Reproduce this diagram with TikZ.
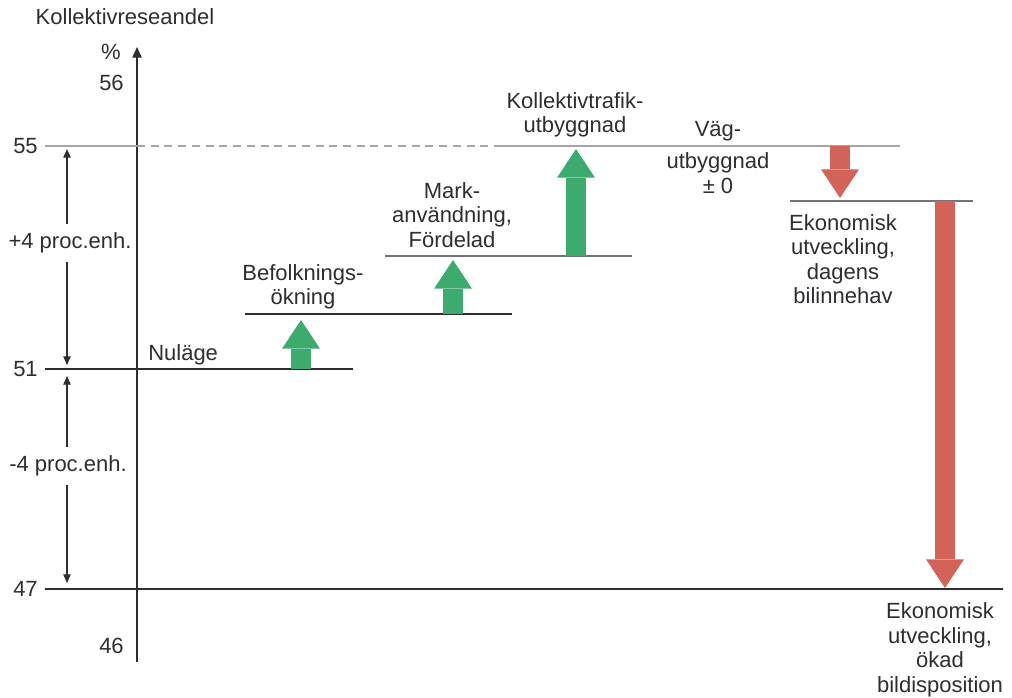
\documentclass[tikz,border=0pt]{standalone}
\usepackage{fontspec}
\setmainfont{Liberation Sans}
\usepackage{xcolor}
\usetikzlibrary{arrows.meta}

\definecolor{upgreen}{RGB}{61,170,110}
\definecolor{downred}{RGB}{211,99,88}
\definecolor{gridgray}{RGB}{165,165,165}
\definecolor{inkdark}{RGB}{45,45,50}

\begin{document}
\begin{tikzpicture}[x=0.75pt,y=0.75pt,yscale=-1,xscale=1,
	txt/.style={inner sep=0.75pt,text=inkdark,align=center,font=\fontsize{16.5}{18.4}\selectfont},
	stepline/.style={draw=inkdark,line width=1.1pt},
	graystep/.style={draw=gridgray,line width=1.3pt},
	midstep/.style={draw=black!55,line width=1.2pt},
	uparrow/.style={draw=upgreen,line width=15pt,-{Triangle[width=28.5pt,length=21.5pt,line width=0pt]}},
	downarrow/.style={draw=downred,line width=15pt,-{Triangle[width=28.5pt,length=21.5pt,line width=0pt]}},
	dimarrow/.style={draw=inkdark,line width=0.9pt,-{Triangle[width=5.5pt,length=6.5pt]}}]
	\useasboundingbox (0,0) rectangle (1012,697);
	
	%Shape: Axis
	\coordinate (axbot) at (137,662);
	\coordinate (axtop) at (137,47);
	\draw [inkdark,line width=1.1pt,-{Triangle[width=7pt,length=8pt]}] (axbot) -- (axtop) ;
	
	%Shape: Level lines
	\draw [graystep] (45,146) -- (137,146) ;
	\draw [graystep,dash pattern=on 6pt off 4.3pt] (137,146) -- (500,146) ;
	\draw [graystep] (500,146) -- (900,146) ;
	\draw [stepline] (45,369) -- (353,369) ;
	\draw [stepline] (245,314) -- (512,314) ;
	\draw [midstep] (385,256) -- (632,256) ;
	\draw [midstep] (790,201) -- (973,201) ;
	\draw [stepline] (45,589) -- (1003,589) ;
	
	%Shape: Green arrows
	\coordinate (befolkbot) at (301,369);
	\coordinate (befolktop) at (301,320);
	\coordinate (markbot) at (453,314);
	\coordinate (marktop) at (453,260);
	\coordinate (kollbot) at (576,256);
	\coordinate (kolltop) at (576,149);
	\draw [uparrow] (befolkbot) -- (befolktop) ;
	\draw [uparrow] (markbot) -- (marktop) ;
	\draw [uparrow] (kollbot) -- (kolltop) ;
	
	%Shape: Red arrows
	\coordinate (dagenstop) at (840,146);
	\coordinate (dagensbot) at (840,198);
	\coordinate (okadtop) at (945,201);
	\coordinate (okadbot) at (945,588);
	\draw [downarrow] (dagenstop) -- (dagensbot) ;
	\draw [downarrow] (okadtop) -- (okadbot) ;
	
	% Text Node
	\node [txt] (yname) at (125,17) {Kollektivreseandel};
	% Text Node
	\node [txt] (unit) at (111,52) {\%};
	% Text Node
	\node [txt,anchor=east] (v56) at (125,83) {56};
	% Text Node
	\node [txt,anchor=east] (v55) at (39,146) {55};
	% Text Node
	\node [txt,anchor=east] (v51) at (39,369) {51};
	% Text Node
	\node [txt,anchor=east] (v47) at (39,589) {47};
	% Text Node
	\node [txt,anchor=east] (v46) at (125,646) {46};
	
	% Text Node
	\node [txt,outer ysep=5.5pt] (plusfour) at (70,243) {+4 proc.enh.};
	% Text Node
	\node [txt,outer ysep=5.5pt] (minusfour) at (68,466) {-4 proc.enh.};
	\coordinate (d55) at (67,149);
	\coordinate (d51up) at (67,365);
	\coordinate (d51dn) at (67,376);
	\coordinate (d47) at (67,583);
	\draw [dimarrow] (plusfour.north -| d55) -- (d55) ;
	\draw [dimarrow] (plusfour.south -| d51up) -- (d51up) ;
	\draw [dimarrow] (minusfour.north -| d51dn) -- (d51dn) ;
	\draw [dimarrow] (minusfour.south -| d47) -- (d47) ;
	
	% Text Node
	\node [txt,anchor=west] (nulage) at (147,355) {Nuläge};
	% Text Node
	\node [txt] (befolk) at (303,287) {Befolknings-\\ökning};
	% Text Node
	\node [txt] (mark) at (452,215) {Mark-\\användning,\\Fördelad};
	% Text Node
	\node [txt] (kollektiv) at (575,115) {Kollektivtrafik-\\utbyggnad};
	% Text Node
	\node [txt] (vagtop) at (718,131) {Väg-};
	% Text Node
	\node [txt] (vagbot) at (718,173) {utbyggnad\\± 0};
	% Text Node
	\node [txt] (ekodagens) at (843,259) {Ekonomisk\\utveckling,\\dagens\\bilinnehav};
	% Text Node
	\node [txt] (ekookad) at (940,650) {Ekonomisk\\utveckling,\\ökad\\bildisposition};
	
\end{tikzpicture}
\end{document}
